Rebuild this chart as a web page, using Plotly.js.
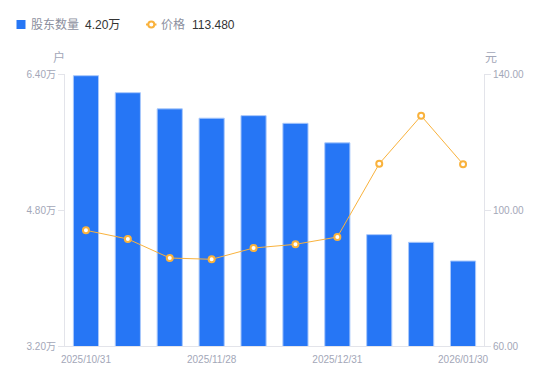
<!DOCTYPE html>
<html>
<head>
<meta charset="utf-8">
<script src="https://cdn.plot.ly/plotly-3.0.1.min.js"></script>
<style>
html,body{margin:0;padding:0;background:#fff;}
#chart{width:550px;height:381px;}
</style>
</head>
<body>
<div id="chart"></div>
<script>
const dates = ["2025/10/31","2025/11/10","2025/11/20","2025/11/28","2025/12/10","2025/12/19","2025/12/31","2026/01/09","2026/01/20","2026/01/30"];
const holders = [6.38, 6.18, 5.99, 5.88, 5.91, 5.82, 5.59, 4.51, 4.42, 4.20]; // 万户
const prices = [94.03, 91.47, 85.88, 85.50, 88.82, 89.90, 92.06, 113.60, 127.70, 113.48]; // 元
const xTickVals = ["2025/10/31","2025/11/28","2025/12/31","2026/01/30"];
const leftTicks = [3.2, 4.8, 6.4];
const rightTicks = [60, 100, 140];
const seriesNames = ["股东数量", "价格"];

const FONT = "Liberation Sans, Arial, Noto Sans CJK SC, sans-serif";
const GRAY = "#a3a7b8";
const AXIS = "#e3e4ea";
const BLUE = "#2676f5";
const ORANGE = "#f9b23c";

// plot area in pixels (for converting legend positions to paper coords)
const M = {l: 65, r: 66, t: 74, b: 35};
const W = 550, H = 381;
const PW = W - M.l - M.r, PH = H - M.t - M.b;
const px = p => (p - M.l) / PW;
const py = q => (H - M.b - q) / PH;

const traces = [
  {
    type: "bar", x: dates, y: holders, yaxis: "y", name: seriesNames[0],
    marker: {color: BLUE, line: {color: "#a9c8fb", width: 1}},
    width: 0.6, hoverinfo: "skip"
  },
  {
    type: "scatter", mode: "lines+markers", x: dates, y: prices, yaxis: "y2", name: seriesNames[1],
    line: {color: ORANGE, width: 1},
    marker: {color: "#ffffff", size: 6, line: {color: ORANGE, width: 2}},
    hoverinfo: "skip"
  }
];

const LY = 24.5;
const legendFont = {family: FONT, size: 12, color: "#8c8f9e"};
const valueFont = {family: FONT, size: 12, color: "#333333"};

const layout = {
  width: W, height: H,
  margin: M,
  paper_bgcolor: "#fff", plot_bgcolor: "#fff",
  font: {family: FONT, size: 10, color: GRAY},
  showlegend: false,
  xaxis: {
    type: "category", range: [-0.5, dates.length - 0.5], autorange: false,
    tickmode: "array", tickvals: xTickVals, ticktext: xTickVals,
    showline: true, linecolor: AXIS, linewidth: 1, ticks: "", showgrid: false,
    ticklabelstandoff: 4,
    zeroline: false, tickfont: {size: 10, color: GRAY}, fixedrange: true
  },
  yaxis: {
    range: [3.2, 6.4], tickmode: "array", tickvals: leftTicks,
    ticktext: leftTicks.map(v => v.toFixed(2) + "万"),
    showline: true, linecolor: AXIS, linewidth: 1, ticks: "outside", ticklen: 6,
    tickcolor: AXIS, showgrid: false, zeroline: false,
    tickfont: {size: 10, color: GRAY}, fixedrange: true
  },
  yaxis2: {
    range: [60, 140], overlaying: "y", side: "right", tickmode: "array",
    tickvals: rightTicks, ticktext: rightTicks.map(v => v.toFixed(2)),
    showline: true, linecolor: AXIS, linewidth: 1, ticks: "outside", ticklen: 6,
    tickcolor: AXIS, showgrid: false, zeroline: false,
    tickfont: {size: 10, color: GRAY}, fixedrange: true
  },
  shapes: [
    {type: "rect", xref: "paper", yref: "paper", x0: px(16.5), x1: px(25.5), y0: py(29), y1: py(20),
     fillcolor: BLUE, line: {width: 0}},
    {type: "line", xref: "paper", yref: "paper", x0: px(146), x1: px(156.5), y0: py(LY), y1: py(LY),
     line: {color: ORANGE, width: 2}},
    {type: "circle", xref: "paper", yref: "paper", x0: px(148.3), x1: px(154.3), y0: py(LY + 3), y1: py(LY - 3),
     fillcolor: "#fff", line: {color: ORANGE, width: 2}}
  ],
  annotations: [
    {text: "户", xref: "paper", yref: "paper", x: 0, y: 1, xanchor: "right", yanchor: "bottom",
     xshift: 2, yshift: 7, showarrow: false, font: {family: "Noto Sans CJK SC", size: 12, color: GRAY}},
    {text: "元", xref: "paper", yref: "paper", x: 1, y: 1, xanchor: "left", yanchor: "bottom",
     xshift: -1, yshift: 7, showarrow: false, font: {family: "Noto Sans CJK SC", size: 12, color: GRAY}},
    {text: seriesNames[0], xref: "paper", yref: "paper", x: px(29), y: py(LY), xanchor: "left", yanchor: "middle",
     showarrow: false, font: legendFont},
    {text: holders[holders.length - 1].toFixed(2) + "万", xref: "paper", yref: "paper", x: px(83), y: py(LY),
     xanchor: "left", yanchor: "middle", showarrow: false, font: valueFont},
    {text: seriesNames[1], xref: "paper", yref: "paper", x: px(159), y: py(LY), xanchor: "left", yanchor: "middle",
     showarrow: false, font: legendFont},
    {text: prices[prices.length - 1].toFixed(3), xref: "paper", yref: "paper", x: px(190), y: py(LY),
     xanchor: "left", yanchor: "middle", showarrow: false, font: valueFont}
  ]
};

Plotly.newPlot("chart", traces, layout, {displayModeBar: false, staticPlot: true});
</script>
</body>
</html>
